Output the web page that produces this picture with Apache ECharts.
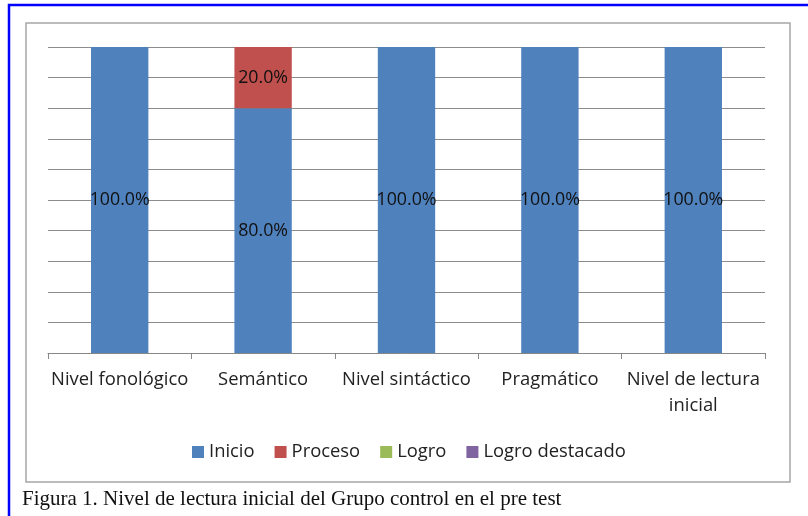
<!DOCTYPE html>
<html><head><meta charset="utf-8">
<script src="https://cdn.jsdelivr.net/npm/echarts@6/dist/echarts.min.js"></script>
<style>html,body{margin:0;padding:0;background:#fff}#c{width:808px;height:516px}</style>
</head><body><div id="c"></div>
<script>
var categories = ['Nivel fonológico', 'Semántico', 'Nivel sintáctico', 'Pragmático', 'Nivel de lectura\ninicial'];
var seriesNames = ['Inicio', 'Proceso', 'Logro', 'Logro destacado'];
var inicio = [100, 80, 100, 100, 100];
var proceso = [0, 20, 0, 0, 0];
var logro = [0, 0, 0, 0, 0];
var logroDestacado = [0, 0, 0, 0, 0];
var colors = ['#4F81BD', '#C0504D', '#9BBB59', '#8064A2'];
var values = [inicio, proceso, logro, logroDestacado];

var font = 'Open Sans';
var chart = echarts.init(document.getElementById('c'));
chart.setOption({
  animation: false,
  color: colors,
  grid: {left: 48, right: 43, top: 47, bottom: 163, containLabel: false},
  legend: {
    top: 437, left: 187,
    itemWidth: 12, itemHeight: 12, itemGap: 20,
    icon: 'rect',
    textStyle: {fontFamily: font, fontSize: 18.4, lineHeight: 20, color: '#222'},
    data: seriesNames
  },
  xAxis: {
    type: 'category', data: categories,
    axisLine: {lineStyle: {color: '#878787', width: 1}},
    axisTick: {show: true, length: 6, alignWithLabel: false, lineStyle: {color: '#878787'}},
    axisLabel: {fontFamily: font, fontSize: 18.4, color: '#222', margin: 14, lineHeight: 26, interval: 0}
  },
  yAxis: {
    type: 'value', min: 0, max: 100, interval: 10,
    axisLabel: {show: false}, axisLine: {show: false}, axisTick: {show: false},
    splitLine: {lineStyle: {color: '#8c8c8c', width: 1}}
  },
  series: seriesNames.map(function (n, i) {
    return {
      name: n, type: 'bar', stack: 'total', barWidth: '40%',
      data: values[i],
      label: {
        show: true, position: 'inside', fontFamily: font, fontSize: 17.8, color: '#111',
        formatter: function (p) { return p.value > 0 ? p.value.toFixed(1) + '%' : ''; }
      }
    };
  }),
  graphic: [
    {type: 'rect', shape: {x: 26, y: 23, width: 764, height: 459}, style: {fill: 'none', stroke: '#a6a6a6', lineWidth: 1.5}, z: -1},
    {type: 'rect', shape: {x: 9, y: 5, width: 900, height: 600}, style: {fill: 'none', stroke: '#0000ff', lineWidth: 2.5}},
    {type: 'text', left: 22, top: 489, style: {text: 'Figura 1. Nivel de lectura inicial del Grupo control en el pre test', fontFamily: 'Liberation Serif', fontSize: 21, fill: '#111'}}
  ]
});
</script></body></html>
